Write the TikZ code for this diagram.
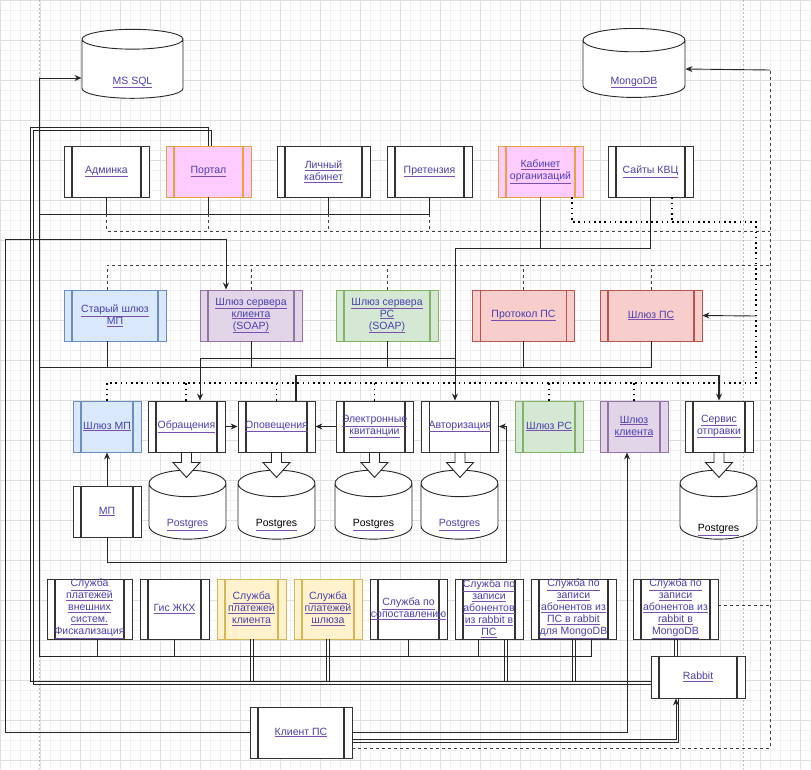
\documentclass[tikz,border=0pt]{standalone}
\usepackage{fontspec}
\setmainfont{Liberation Sans}
\usetikzlibrary{arrows.meta,shapes.geometric}

\definecolor{txc}{HTML}{4B3FB0}
\definecolor{ulc}{HTML}{7A4FB0}
\definecolor{pinkf}{HTML}{FFCCFF}
\definecolor{pinkd}{HTML}{E8A33D}
\definecolor{bluef}{HTML}{DAE8FC}
\definecolor{blued}{HTML}{6C8EBF}
\definecolor{purpf}{HTML}{E1D5E7}
\definecolor{purpd}{HTML}{9673A6}
\definecolor{grnf}{HTML}{D5E8D4}
\definecolor{grnd}{HTML}{82B366}
\definecolor{redf}{HTML}{F8CECC}
\definecolor{redd}{HTML}{B85450}
\definecolor{ylwf}{HTML}{FFF2CC}
\definecolor{ylwd}{HTML}{D6B656}

\newcommand{\lk}[1]{\textcolor{ulc}{\underline{\textcolor{txc}{#1}}}}
\newcommand{\lkb}[1]{\textcolor{ulc}{\underline{\textcolor{black}{#1}}}}
\newcommand{\dbtxt}[2][15pt]{\raisebox{-#1}[0pt][0pt]{#2}}

\tikzset{
  proc/.style n args={4}{rectangle, fill=#3, draw=#4, line width=0.9pt,
    minimum width=#1, minimum height=#2, inner sep=0pt, align=center,
    font=\fontsize{10.5}{12}\selectfont,
    path picture={\draw[#4, line width=1.4pt]
      ([xshift=8pt]path picture bounding box.north west) -- ([xshift=8pt]path picture bounding box.south west)
      ([xshift=-8pt]path picture bounding box.north east) -- ([xshift=-8pt]path picture bounding box.south east);}},
  db/.style 2 args={cylinder, shape border rotate=90, aspect=#2, draw=black!85, line width=0.9pt,
    fill=white, minimum width=#1, minimum height=69, inner sep=0pt,
    font=\fontsize{10.5}{12}\selectfont},
  ln/.style={draw=black!85, line width=0.9pt},
  arr/.style={ln, -{Stealth[length=7pt, width=6pt]}},
  dsh/.style={draw=black!75, line width=0.9pt, dash pattern=on 3pt off 3pt},
  dts/.style={draw=black, line width=1.6pt, dash pattern=on 1.6pt off 3.6pt},
  blk/.style={draw=black!85, line width=0.9pt, fill=white},
}

\begin{document}
\begin{tikzpicture}[x=1pt, y=-1pt]
  \useasboundingbox (0,0) rectangle (811,769);
  % grid and page breaks
  \draw[gray!12, step=10pt] (0,0) grid (811,769);
  \draw[gray!25, step=40pt] (0,0) grid (811,769);
  \draw[gray!55, line width=0.6pt, dash pattern=on 2pt off 2pt] (39,0) -- (39,769) (743,0) -- (743,769);

  % Databases
  \node[db={101}{0.5}] (mssql) at (132.5,69) {\dbtxt{\lk{MS SQL}}};
  \node[db={102}{0.5}] (mongo) at (634,69) {\dbtxt{\lk{MongoDB}}};

  % Row 1: front ends
  \node[proc={85}{51}{white}{black!80}] (adm) at (106.5,171.5) {\lk{Админка}};
  \node[proc={85}{51}{pinkf}{pinkd}] (portal) at (208.5,171.5) {\lk{Портал}};
  \node[proc={93}{51}{white}{black!80}] (lk) at (323.5,171.5) {\lk{Личный}\\\lk{кабинет}};
  \node[proc={85}{51}{white}{black!80}] (pret) at (429.5,171.5) {\lk{Претензия}};
  \node[proc={85}{51}{pinkf}{pinkd}] (kab) at (540.5,171.5) {\lk{Кабинет}\\\lk{организаций}};
  \node[proc={85}{51}{white}{black!80}] (kvc) at (650.5,171.5) {\lk{Сайты КВЦ}};

  % Row 2: gateways
  \node[proc={102}{51}{bluef}{blued}] (oldmp) at (115,315.5) {\lk{Старый шлюз}\\\lk{МП}};
  \node[proc={102}{51}{purpf}{purpd}] (soapcl) at (251,315.5) {\lk{Шлюз сервера}\\\lk{клиента}\\\lk{(SOAP)}};
  \node[proc={102}{51}{grnf}{grnd}] (soaprs) at (387,315.5) {\lk{Шлюз сервера}\\\lk{РС}\\\lk{(SOAP)}};
  \node[proc={102}{51}{redf}{redd}] (protps) at (523.5,315.5) {\lk{Протокол ПС}};
  \node[proc={102}{51}{redf}{redd}] (gwps) at (651,315.5) {\lk{Шлюз ПС}};

  % Row 3: services
  \node[proc={68}{51}{bluef}{blued}] (gwmp) at (107,426.5) {\lk{Шлюз МП}};
  \node[proc={77}{51}{white}{black!80}] (obr) at (186.5,426.5) {\lk{Обращения}};
  \node[proc={77}{51}{white}{black!80}] (opov) at (276.5,426.5) {\lk{Оповещения}};
  \node[proc={77}{51}{white}{black!80}] (ekv) at (374.5,426.5) {\lk{Электронные}\\\lk{квитанции}};
  \node[proc={77}{51}{white}{black!80}] (auth) at (460,426.5) {\lk{Авторизация}};
  \node[proc={68}{51}{grnf}{grnd}] (gwrs) at (549,426.5) {\lk{Шлюз РС}};
  \node[proc={68}{51}{purpf}{purpd}] (gwcl) at (634,426.5) {\lk{Шлюз}\\\lk{клиента}};
  \node[proc={68}{51}{white}{black!80}] (send) at (719,426.5) {\lk{Сервис}\\\lk{отправки}};

  % Postgres
  \node[db={77}{0.64}] (pg1) at (187.5,511.5) {\dbtxt{\lk{Postgres}}};
  \node[db={77}{0.64}] (pg2) at (276.5,511.5) {\dbtxt{\lkb{Postgres}}};
  \node[db={77}{0.64}] (pg3) at (373.5,511.5) {\dbtxt{\lkb{Postgres}}};
  \node[db={77}{0.64}] (pg4) at (459.5,511.5) {\dbtxt{\lk{Postgres}}};
  \node[db={77}{0.64}] (pg5) at (718.5,511.5) {\dbtxt[20pt]{\lkb{Postgres}}};
  \node[proc={68}{51}{white}{black!80}] (mp) at (107,511.5) {\lk{МП}};

  % Row 4: workers
  \node[proc={85}{60}{white}{black!80}] (fisc) at (89.5,609) {\lk{Служба}\\\lk{платежей}\\\lk{внешних}\\\lk{систем.}\\\lk{Фискализация}};
  \node[proc={69}{60}{white}{black!80}] (gis) at (174.5,609) {\lk{Гис ЖКХ}};
  \node[proc={69}{60}{ylwf}{ylwd}] (paycl) at (251.5,609) {\lk{Служба}\\\lk{платежей}\\\lk{клиента}};
  \node[proc={68}{60}{ylwf}{ylwd}] (paygw) at (328,609) {\lk{Служба}\\\lk{платежей}\\\lk{шлюза}};
  \node[proc={77}{60}{white}{black!80}] (match) at (408.5,609) {\lk{Служба по}\\\lk{сопоставлению}};
  \node[proc={68}{60}{white}{black!80}] (rab2ps) at (489,609) {\lk{Служба по}\\\lk{записи}\\\lk{абонентов}\\\lk{из rabbit в}\\\lk{ПС}};
  \node[proc={85}{60}{white}{black!80}] (ps2rab) at (573.5,609) {\lk{Служба по}\\\lk{записи}\\\lk{абонентов из}\\\lk{ПС в rabbit}\\\lk{для MongoDB}};
  \node[proc={85}{60}{white}{black!80}] (rab2mongo) at (675.5,609) {\lk{Служба по}\\\lk{записи}\\\lk{абонентов из}\\\lk{rabbit в}\\\lk{MongoDB}};
  \node[proc={94}{42}{white}{black!80}] (rabbit) at (698,677) {\lk{Rabbit}};
  \node[proc={102}{51}{white}{black!80}] (clps) at (301,732.5) {\lk{Клиент ПС}};

  % MS SQL bus
  \draw[arr] ([xshift=18pt]ps2rab.south) |- (39,656) |- ([yshift=-9pt]mssql.west);
  \foreach \n/\s in {fisc/8, gis/0, match/0, rab2ps/-11}
    \draw[ln] ([xshift=\s pt]\n.south) -- ++(0,17);
  \draw[ln] (pret.south) |- (39,214);
  \foreach \n/\s in {adm/0, portal/0, lk/4.5}
    \draw[ln] ([xshift=\s pt]\n.south) -- ++(0,17);
  \draw[ln] (gwps.south) |- (39,367);
  \foreach \n/\s in {oldmp/-8, soapcl/0, soaprs/0, protps/0}
    \draw[ln] ([xshift=\s pt]\n.south) -- ++(0,26);

  % dashed buses to MongoDB
  \draw[dsh] (adm.south) ++(0,17) |- (770,231);
  \foreach \n/\s in {portal/0, lk/4.5, pret/0}
    \draw[dsh] ([xshift=\s pt]\n.south) ++(0,17) -- ++(0,17);
  \draw[dsh] ([xshift=-8pt]oldmp.north) |- (770,265);
  \foreach \n in {soapcl, soaprs, protps, gwps}
    \draw[dsh] (\n.north) -- ++(0,-25);
  \draw[dsh] ([yshift=-16pt]clps.east) -| (770,70);
  \draw[dsh] ([yshift=4pt]rab2mongo.east) -- (770,605);
  \draw[arr] (770,70) -- (mongo.east);

  % Портал <-> Rabbit
  \draw[ln] (portal.north) |- (30,127) |- ([yshift=-4pt]rabbit.west);
  \draw[ln] ([xshift=3pt]portal.north) |- (33,130) |- ([yshift=-7pt]rabbit.west);
  \foreach \n/\s in {paycl/-1.5, paycl/1.5, paygw/-1.5, paygw/1.5, rab2ps/15, rab2ps/18, ps2rab/-1, ps2rab/2}
    \draw[ln] ([xshift=\s pt]\n.south) -- ++(0,43);
  \foreach \s in {-1.5, 1.5}
    \draw[ln] ([xshift=\s pt]rab2mongo.south) -- ++(0,17);

  % Клиент ПС
  \draw[arr] (clps.west) -| (5,239) -| ([xshift=-25pt]soapcl.north);
  \draw[arr] (clps.east) -| ([xshift=-7pt]gwcl.south);
  \draw[arr] ([yshift=-7pt]clps.east) -| ([xshift=-22pt]rabbit.south);
  \draw[ln] ([yshift=-10pt]clps.east) -| ([xshift=-20pt]rabbit.south);

  % Кабинет, Сайты -> Авторизация, Обращения
  \draw[ln] (kvc.south) |- (455,248);
  \draw[arr] (kab.south) |- (455,248) -- ([xshift=-5pt]auth.north);
  \draw[arr] (455,358) -| ([xshift=13.5pt]obr.north);

  % Оповещения -> Сервис отправки
  \draw[arr, line width=1.4pt] ([xshift=19.5pt]opov.north) -- ++(0,-25) -| (send.north);

  % dotted links
  \draw[dts] (gwmp.north) |- (756,383) |- (572,222) -- ([xshift=31.5pt]kab.south);
  \foreach \n/\s in {obr/-0.5, opov/0, ekv/0, gwrs/0, gwcl/0}
    \draw[dts] ([xshift=\s pt]\n.north) -- ++(0,-18);
  \draw[dts] ([xshift=21.5pt]kvc.south) -- ++(0,25);
  \draw[arr] (756,316) -- (gwps.east);

  % row 3 links
  \draw[arr] (obr.east) -- (opov.west);
  \draw[arr] (ekv.west) -- (opov.east);
  \draw[arr] (mp.north) -- (gwmp.south);
  \draw[arr] (mp.south) |- (506,562) |- (auth.east);

  % block arrows to Postgres
  \foreach \a in {obr, opov, ekv, auth, send}
    \draw[blk] ([shift={(-5,0)}]\a.south) -- ++(10,0) -- ++(0,10) -- ++(8.5,0)
      -- ++(-13.5,15) -- ++(-13.5,-15) -- ++(8.5,0) -- cycle;
\end{tikzpicture}
\end{document}
